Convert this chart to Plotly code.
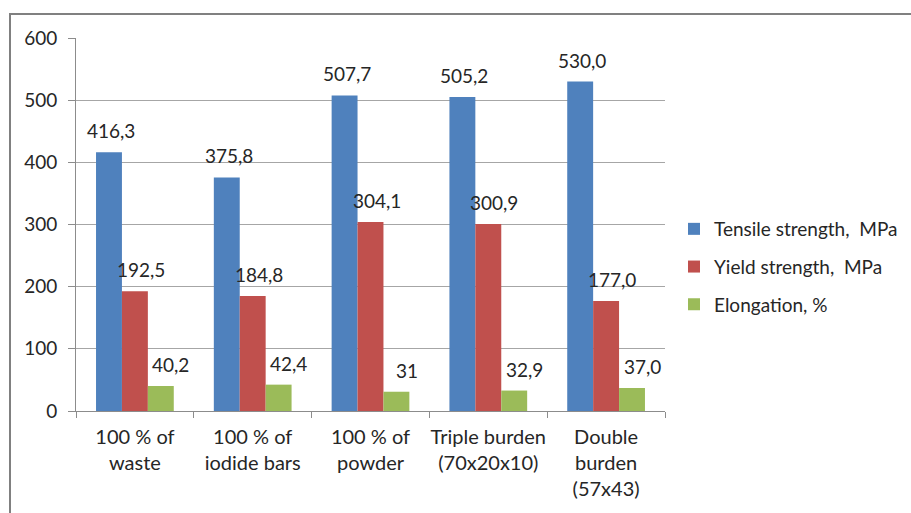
import plotly.graph_objects as go

categories = ["100 % of<br>waste", "100 % of<br>iodide bars", "100 % of<br>powder",
              "Triple burden<br>(70x20x10)", "Double<br>burden<br>(57x43)"]
series_names = ["Tensile strength,  MPa", "Yield strength,  MPa", "Elongation, %"]
tensile = [416.3, 375.8, 507.7, 505.2, 530.0]
yield_s = [192.5, 184.8, 304.1, 300.9, 177.0]
elong = [40.2, 42.4, 31, 32.9, 37.0]
tensile_lbl = ["416,3", "375,8", "507,7", "505,2", "530,0"]
yield_lbl = ["192,5", "184,8", "304,1", "300,9", "177,0"]
elong_lbl = ["40,2", "42,4", "31", "32,9", "37,0"]
colors = ["#4F81BD", "#C0504D", "#9BBB59"]

FONT = "Lato"
TXT = "#262626"

fig = go.Figure()
all_vals = [tensile, yield_s, elong]
all_lbls = [tensile_lbl, yield_lbl, elong_lbl]
for i, (name, vals) in enumerate(zip(series_names, all_vals)):
    fig.add_trace(go.Bar(x=categories, y=vals, name=name, marker_color=colors[i],
                         marker_line_width=0, legendgroup=str(i)))

xshifts = [-26 + 2, 0 + 6, 26 + 10]
for i in range(3):
    for c, v, t in zip(categories, all_vals[i], all_lbls[i]):
        fig.add_annotation(x=c, y=v, text=t, showarrow=False, xref="x", yref="y",
                           yanchor="bottom", xshift=xshifts[i], yshift=8,
                           font=dict(family=FONT, size=19, color=TXT))

# outer chart border
fig.add_shape(type="rect", xref="paper", yref="paper",
              x0=(10 - 76) / 589, x1=(960 - 76) / 589,
              y0=(411 - 560) / 373, y1=(411 - 14) / 373,
              line=dict(color="#808080", width=2), fillcolor="rgba(0,0,0,0)", layer="below")

fig.update_layout(
    width=911, height=513,
    margin=dict(l=76, r=246, t=38, b=102, autoexpand=False),
    paper_bgcolor="white", plot_bgcolor="white",
    barmode="group", bargap=0.34, bargroupgap=0,
    font=dict(family=FONT, size=19, color=TXT),
    legend=dict(x=(674 - 76) / 589, xanchor="left", y=(411 - 267) / 373, yanchor="middle",
                font=dict(family=FONT, size=19, color=TXT), tracegroupgap=10,
                itemwidth=30, bgcolor="rgba(0,0,0,0)"),
    xaxis=dict(showline=True, linecolor="#8c8c8c", linewidth=1, ticks="outside",
               tickson="boundaries", ticklen=6, tickcolor="#8c8c8c", ticklabelstandoff=8,
               tickangle=0, automargin=False,
               tickfont=dict(family=FONT, size=20, color=TXT)),
    yaxis=dict(range=[0, 600], dtick=100, showline=True, linecolor="#8c8c8c", linewidth=1,
               ticks="outside", ticklen=7, tickcolor="#8c8c8c", showgrid=True,
               gridcolor="#a6a6a6", gridwidth=1, zeroline=False, ticklabelstandoff=7,
               automargin=False,
               tickfont=dict(family=FONT, size=19, color=TXT)),
)

fig.write_html("out.html")
